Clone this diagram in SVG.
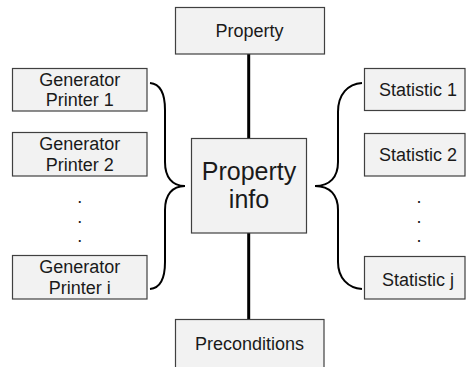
<svg xmlns="http://www.w3.org/2000/svg" width="466" height="367" viewBox="0 0 466 367">
<style>
.box{fill:#f2f2f2;stroke:#404040;stroke-width:1.2}
.t{font-family:"Liberation Sans",Arial,sans-serif;font-size:18px;fill:#1a1a1a;text-anchor:middle}
.big{font-size:25px}
.ln{fill:none;stroke:#000;stroke-width:3}
.br{fill:none;stroke:#000;stroke-width:2}
</style>
<rect width="466" height="367" fill="#fff"/>
<g id="connectors">
<line class="ln" x1="248.7" y1="54" x2="248.7" y2="138"/>
<line class="ln" x1="248.7" y1="233" x2="248.7" y2="319"/>
<path class="br" d="M150,83 C161,84 165,94 165,110 L165,162 C165,177 172,186 185,186 C172,186 165,195 165,210 L165,262 C165,278 161,288 150,289"/>
<path class="br" d="M362,83 C348,84 338,94 338,112 L338,162 C338,177 330,186 315,186 C330,186 338,195 338,210 L338,262 C338,278 348,288 362,289"/>
</g>
<g id="property">
<rect class="box" x="175.5" y="7.5" width="149" height="46.5"/>
<text class="t" x="249.5" y="37">Property</text>
</g>
<g id="gen1">
<rect class="box" x="12.5" y="68.5" width="134.5" height="42.5"/>
<text class="t" x="79.8" y="85.5">Generator</text>
<text class="t" x="79.8" y="106">Printer 1</text>
</g>
<g id="gen2">
<rect class="box" x="12.5" y="132.5" width="134.5" height="43.5"/>
<text class="t" x="79.8" y="150">Generator</text>
<text class="t" x="79.8" y="170.5">Printer 2</text>
</g>
<g id="gendots">
<text class="t" x="79.8" y="203">.</text>
<text class="t" x="79.8" y="223">.</text>
<text class="t" x="79.8" y="242">.</text>
</g>
<g id="geni">
<rect class="box" x="12.5" y="255.5" width="134.5" height="43.5"/>
<text class="t" x="79.8" y="273">Generator</text>
<text class="t" x="79.8" y="294">Printer i</text>
</g>
<g id="propinfo">
<rect class="box" x="191.5" y="138.5" width="115" height="94.5"/>
<text class="t big" x="249" y="180">Property</text>
<text class="t big" x="249" y="208">info</text>
</g>
<g id="stat1">
<rect class="box" x="364.5" y="68.5" width="100.5" height="42"/>
<text class="t" x="418" y="96">Statistic 1</text>
</g>
<g id="stat2">
<rect class="box" x="364.5" y="133.5" width="100.5" height="42.5"/>
<text class="t" x="418" y="161">Statistic 2</text>
</g>
<g id="statdots">
<text class="t" x="419" y="203">.</text>
<text class="t" x="419" y="223">.</text>
<text class="t" x="419" y="242">.</text>
</g>
<g id="statj">
<rect class="box" x="364.5" y="256.5" width="100.5" height="42.5"/>
<text class="t" x="418" y="286">Statistic j</text>
</g>
<g id="precond">
<rect class="box" x="175.5" y="319.5" width="148.5" height="60"/>
<text class="t" x="249.5" y="350">Preconditions</text>
</g>
</svg>
